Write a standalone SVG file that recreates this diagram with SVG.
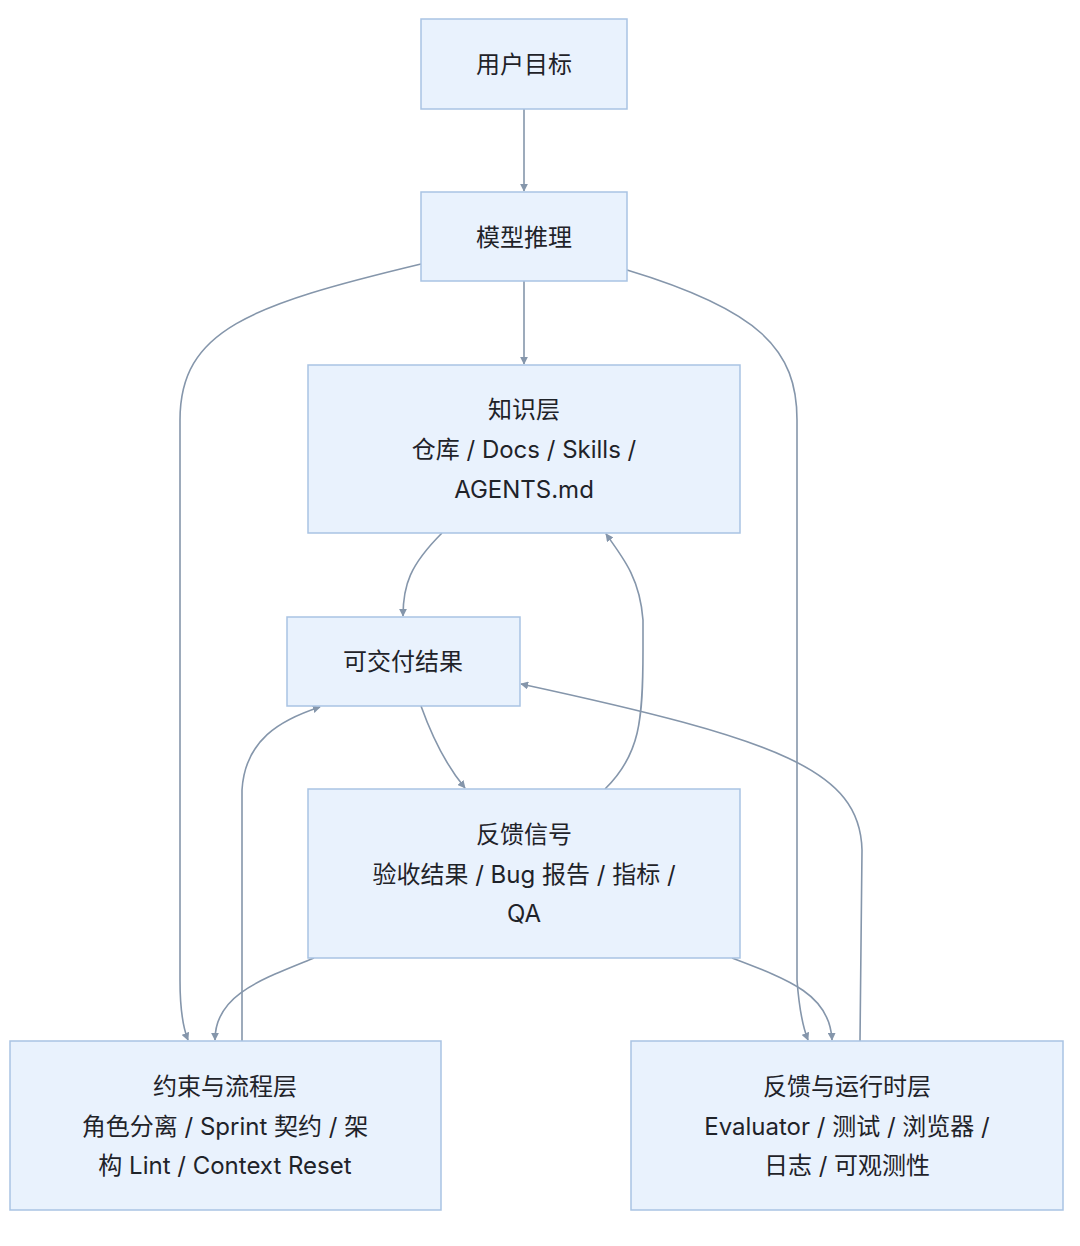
<svg xmlns="http://www.w3.org/2000/svg" width="1080" height="1246" viewBox="0 0 1080 1246">
<defs>
<style>
.n rect{fill:#e9f2fd;stroke:#a9c3e3;stroke-width:1.5}
.n text{font-family:"Inter","Noto Sans CJK SC",sans-serif;font-size:24px;fill:#1f2329;text-anchor:middle}
.c path{fill:none;stroke:#8596ab;stroke-width:1.6;marker-end:url(#a)}
</style>
<marker id="a" viewBox="0 0 10 10" refX="9" refY="5" markerWidth="8" markerHeight="8" markerUnits="userSpaceOnUse" orient="auto"><path d="M0,0 L10,5 L0,10 z" fill="#8596ab"/></marker>
</defs>
<rect width="1080" height="1246" fill="#fff"/>
<g class="c" id="connectors">
<path d="M524,109 L524,191"/>
<path d="M524,281 L524,364"/>
<path d="M421,264 C250,305 180,330 180,420 L180,980 Q180,1020 188,1040"/>
<path d="M627,270 C760,310 797,350 797,420 L797,980 Q800,1020 808,1040"/>
<path d="M442,533 C410,565 403,585 403,616"/>
<path d="M421,706 C435,745 450,770 465,788"/>
<path d="M605,789 C640,755 643,720 643,650 L643,620 C640,580 625,560 606,534"/>
<path d="M242,1041 L242,790 C245,740 280,720 320,707"/>
<path d="M860,1041 L862,850 C860,770 780,740 521,684"/>
<path d="M314,958 C260,980 215,995 215,1040"/>
<path d="M732,958 C790,980 830,995 832,1040"/>
</g>
<g class="n" id="n1"><rect x="421" y="19" width="206" height="90"/><text x="524" y="73">用户目标</text></g>
<g class="n" id="n2"><rect x="421" y="192" width="206" height="89"/><text x="524" y="246">模型推理</text></g>
<g class="n" id="n3"><rect x="308" y="365" width="432" height="168"/><text x="524" y="418">知识层</text><text x="524" y="458">仓库 / Docs / Skills /</text><text x="524" y="498">AGENTS.md</text></g>
<g class="n" id="n4"><rect x="287" y="617" width="233" height="89"/><text x="403" y="670">可交付结果</text></g>
<g class="n" id="n5"><rect x="308" y="789" width="432" height="169"/><text x="524" y="843">反馈信号</text><text x="524" y="883">验收结果 / Bug 报告 / 指标 /</text><text x="524" y="922">QA</text></g>
<g class="n" id="n6"><rect x="10" y="1041" width="431" height="169"/><text x="225" y="1095">约束与流程层</text><text x="225" y="1135">角色分离 / Sprint 契约 / 架</text><text x="225" y="1174">构 Lint / Context Reset</text></g>
<g class="n" id="n7"><rect x="631" y="1041" width="432" height="169"/><text x="847" y="1095">反馈与运行时层</text><text x="847" y="1135">Evaluator / 测试 / 浏览器 /</text><text x="847" y="1174">日志 / 可观测性</text></g>
</svg>
